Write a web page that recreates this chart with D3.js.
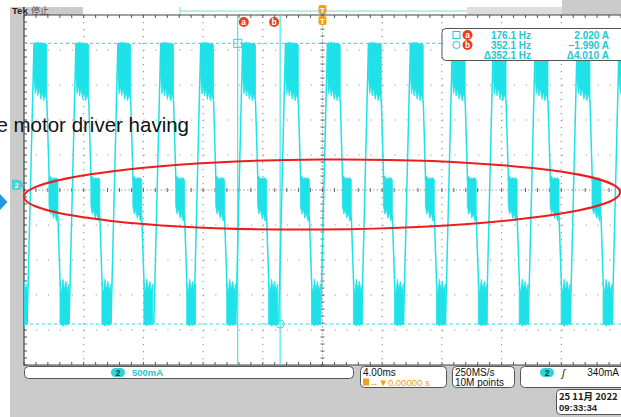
<!DOCTYPE html>
<html>
<head>
<meta charset="utf-8">
<script src="https://cdn.jsdelivr.net/npm/d3@7"></script>
<style>
  html, body { margin: 0; padding: 0; background: #fff; }
  svg { display: block; font-family: "Liberation Sans", Arial, sans-serif; }
</style>
</head>
<body>
<svg id="scope" width="621" height="417"></svg>
<script>
// ---- acquisition settings ----
const timePerDiv = 4;          // ms / div
const ampsPerDiv = 0.5;        // A / div (channel 2)
const ch2Offset = 0.15;        // divisions, ground marker position
const timeDivs = [-5,-4,-3,-2,-1,0,1,2,3,4,5];
const ampDivs  = [-5,-4,-3,-2,-1,0,1,2,3,4,5];

// ---- phase current: start time of each commutation cycle (ms, rising edge reaches +I) ----
const cycleStarts = [-22.13, -19.33, -16.52, -13.71, -10.84, -8.16, -5.35, -2.48,
                     0.33, 3.08, 5.89, 8.70, 11.44, 14.25, 17.06, 19.87];

// chopping bands inside one cycle: [ms after cycle start, upper A, lower A]
const topBand = [[0.00,2.02,1.55],[0.08,2.03,1.30],[0.16,2.02,1.42],[0.25,2.04,1.27],
                 [0.35,2.02,1.38],[0.45,2.03,1.22],[0.55,2.02,1.33],[0.65,2.01,1.20],
                 [0.75,2.02,1.30],[0.86,2.00,1.18]];
const midBand = [[1.00,0.10,-0.30],[1.10,0.12,-0.42],[1.20,0.08,-0.35],[1.30,0.10,-0.48],
                 [1.40,0.09,-0.40],[1.50,0.10,-0.52],[1.60,0.07,-0.45]];
const botBand = [[1.74,-1.40,-2.00],[1.84,-1.55,-1.99],[1.94,-1.35,-2.02],[2.04,-1.50,-1.99],
                 [2.14,-1.38,-2.01],[2.24,-1.52,-1.99],[2.34,-1.42,-2.00]];
// slopes between the bands: [ms after cycle start, A]
const riseEdge  = [[-0.46,-1.99],[0.00,2.02]];
const fallTop   = [[0.86,1.20],[1.02,0.05]];
const fallMid   = [[1.60,-0.45],[1.76,-1.45]];

// ---- cursors and readout ----
const cursorTimes = [-5.68, -2.84];     // ms  (a, b)
const cursorAmps  = [2.020, -1.990];    // A   (a, b)
const readFreq = ["176.1 Hz", "352.1 Hz", "\u0394352.1 Hz"];
const readAmp  = ["2.020 A", "\u22121.990 A", "\u03944.010 A"];

// ---- status bar ----
const vertLabel = "500mA";
const horizLabel = "4.00ms";
const delayLabel = "0.00000 s";
const rateLabels = ["250MS/s", "10M points"];
const trigLevel = "340mA";
const dateLabels = ["25 11\u6708 2022", "09:33:34"];

const W = 621, H = 417;
const P = { l: 24, t: 15, r: 621, b: 365 };
const CYAN = "#1fe2e8", CYAN_T = "#25c6cf", GRID = "#9a9a9a", ORANGE = "#f0a020", RED = "#e8401c";

const svg = d3.select("#scope");

const x = d3.scaleLinear().domain([-5 * timePerDiv, 5 * timePerDiv]).range([P.l, P.r]);
const yDiv = d3.scaleLinear().domain([-5, 5]).range([P.b, P.t]);
const y = d3.scaleLinear()
  .domain([(-5 - ch2Offset) * ampsPerDiv, (5 - ch2Offset) * ampsPerDiv])
  .range([P.b, P.t]);

// ---- frame backgrounds ----
svg.append("rect").attr("width", W).attr("height", H).attr("fill", "#fff");
svg.append("rect").attr("x", 10).attr("y", 7).attr("width", W - 10).attr("height", H - 7).attr("fill", "#cbcbcb");
svg.append("rect").attr("x", 562).attr("y", 0).attr("width", W - 562).attr("height", 14).attr("fill", "#cbcbcb");
// record view strip
svg.append("rect").attr("x", 83).attr("y", 7).attr("width", 384).attr("height", 8).attr("fill", "#fff");
svg.append("rect").attr("x", 467).attr("y", 7).attr("width", 95).attr("height", 8).attr("fill", "#dedede");
svg.append("line").attr("x1", 180).attr("x2", 467).attr("y1", 11).attr("y2", 11).attr("stroke", "#7fd8dc").attr("stroke-width", 1);
svg.append("line").attr("x1", 180).attr("x2", 180).attr("y1", 7).attr("y2", 15).attr("stroke", "#7fd8dc");
svg.append("text").attr("x", 12).attr("y", 13.5).attr("font-size", 9.5).attr("font-weight", "bold").attr("fill", "#222").text("Tek");
svg.append("text").attr("x", 31).attr("y", 13.5).attr("font-size", 9).attr("fill", "#555")
  .attr("font-family", "Noto Sans CJK SC").text("停止");

// plot area
svg.append("rect").attr("x", P.l).attr("y", P.t).attr("width", P.r - P.l).attr("height", P.b - P.t).attr("fill", "#fff");

const grid = svg.append("g");
// division lines, dotted on minor subdivisions
timeDivs.filter(d => d !== 0 && Math.abs(d) !== 5).forEach(d => {
  const xx = x(d * timePerDiv);
  grid.append("line").attr("x1", xx).attr("x2", xx).attr("y1", P.t).attr("y2", P.b)
    .attr("stroke", GRID).attr("stroke-width", 1.2).attr("stroke-dasharray", "1.2,5.8");
});
ampDivs.filter(d => d !== 0 && Math.abs(d) !== 5).forEach(d => {
  const yy = yDiv(d);
  grid.append("line").attr("x1", P.l).attr("x2", P.r).attr("y1", yy).attr("y2", yy)
    .attr("stroke", GRID).attr("stroke-width", 1.2).attr("stroke-dasharray", "1.2,10.75");
});
// centre crosshair with minor ticks
const cx = x(0), cy = yDiv(0);
grid.append("line").attr("x1", P.l).attr("x2", P.r).attr("y1", cy).attr("y2", cy)
  .attr("stroke", "#888").attr("stroke-dasharray", "1.2,2.4");
grid.append("line").attr("x1", cx).attr("x2", cx).attr("y1", P.t).attr("y2", P.b)
  .attr("stroke", "#888").attr("stroke-dasharray", "1.2,2.3");
const minorT = d3.range(-25, 26).map(i => i / 5);
minorT.forEach(d => {
  const xx = x(d * timePerDiv);
  grid.append("line").attr("x1", xx).attr("x2", xx).attr("y1", cy - 2).attr("y2", cy + 2).attr("stroke", "#666");
  grid.append("line").attr("x1", xx).attr("x2", xx).attr("y1", P.t).attr("y2", P.t + 3).attr("stroke", "#555");
  grid.append("line").attr("x1", xx).attr("x2", xx).attr("y1", P.b - 3).attr("y2", P.b).attr("stroke", "#555");
});
minorT.forEach(d => {
  const yy = yDiv(d);
  grid.append("line").attr("x1", cx - 2).attr("x2", cx + 2).attr("y1", yy).attr("y2", yy).attr("stroke", "#666");
  grid.append("line").attr("x1", P.l).attr("x2", P.l + 3).attr("y1", yy).attr("y2", yy).attr("stroke", "#555");
});
// frame
svg.append("path").attr("d", `M${P.r},${P.t}H${P.l}V${P.b}H${P.r}`).attr("fill", "none").attr("stroke", "#444").attr("stroke-width", 1.2);

// ---- waveform ----
svg.append("clipPath").attr("id", "plotClip").append("rect")
  .attr("x", P.l).attr("y", P.t).attr("width", P.r - P.l).attr("height", P.b - P.t);
const wave = svg.append("g").attr("clip-path", "url(#plotClip)");

const band = d3.area().x(d => x(d[0])).y0(d => y(d[2])).y1(d => y(d[1]));
const trace = d3.line().x(d => x(d[0])).y(d => y(d[1]));
const shift = (arr, c) => arr.map(p => [c + p[0], ...p.slice(1)]);

cycleStarts.forEach(c => {
  [topBand, midBand, botBand].forEach(b => {
    wave.append("path").attr("d", band(shift(b, c))).attr("fill", CYAN).attr("stroke", CYAN).attr("stroke-width", 0.8);
  });
  [riseEdge, fallTop, fallMid].forEach(s => {
    wave.append("path").attr("d", trace(shift(s, c))).attr("fill", "none").attr("stroke", CYAN).attr("stroke-width", 1.5);
  });
});

// ---- cursors ----
const cur = svg.append("g");
cursorAmps.forEach(a => {
  cur.append("line").attr("x1", P.l).attr("x2", P.r).attr("y1", y(a)).attr("y2", y(a))
    .attr("stroke", CYAN).attr("stroke-width", 1).attr("stroke-dasharray", "3,3");
});
cursorTimes.forEach(t => {
  cur.append("line").attr("x1", x(t)).attr("x2", x(t)).attr("y1", P.t).attr("y2", P.b)
    .attr("stroke", CYAN).attr("stroke-width", 1);
});
cur.append("rect").attr("x", x(cursorTimes[0]) - 4).attr("y", y(cursorAmps[0]) - 4).attr("width", 8).attr("height", 8)
  .attr("fill", "none").attr("stroke", CYAN).attr("stroke-width", 1);
cur.append("circle").attr("cx", x(cursorTimes[1])).attr("cy", y(cursorAmps[1])).attr("r", 4)
  .attr("fill", "none").attr("stroke", CYAN).attr("stroke-width", 1);

function badge(g, cxp, cyp, letter) {
  g.append("circle").attr("cx", cxp).attr("cy", cyp).attr("r", 5).attr("fill", RED);
  g.append("text").attr("x", cxp).attr("y", cyp + 3).attr("text-anchor", "middle")
    .attr("font-size", 8.5).attr("font-weight", "bold").attr("fill", "#fff").text(letter);
}
badge(cur, x(cursorTimes[0]) + 6, 22, "a");
badge(cur, x(cursorTimes[1]) - 6, 22, "b");

// trigger position markers
function trigMark(yy) {
  const g = svg.append("g");
  g.append("rect").attr("x", cx - 4).attr("y", yy).attr("width", 8).attr("height", 9).attr("rx", 2).attr("fill", ORANGE);
  g.append("text").attr("x", cx).attr("y", yy + 7.5).attr("text-anchor", "middle").attr("font-size", 8)
    .attr("font-weight", "bold").attr("fill", "#fff").text("T");
}
trigMark(5);
trigMark(16);

// ---- measurement readout ----
const ro = svg.append("g");
ro.append("rect").attr("x", 442).attr("y", 28.5).attr("width", 190).attr("height", 32).attr("rx", 4)
  .attr("fill", "#fff").attr("stroke", "#555").attr("stroke-width", 1);
ro.append("rect").attr("x", 453).attr("y", 31.5).attr("width", 7).attr("height", 7).attr("fill", "none").attr("stroke", CYAN_T);
ro.append("circle").attr("cx", 456.5).attr("cy", 45).attr("r", 3.6).attr("fill", "none").attr("stroke", CYAN_T);
badge(ro, 467.5, 35, "a");
badge(ro, 467.5, 45, "b");
[0, 1, 2].forEach(i => {
  ro.append("text").attr("x", 531).attr("y", 38.5 + i * 10).attr("text-anchor", "end").attr("font-size", 10)
    .attr("font-weight", "bold").attr("fill", CYAN_T).text(readFreq[i]);
  ro.append("text").attr("x", 609).attr("y", 38.5 + i * 10).attr("text-anchor", "end").attr("font-size", 10)
    .attr("font-weight", "bold").attr("fill", CYAN_T).text(readAmp[i]);
});

// ---- channel ground marker ----
const gm = svg.append("g");
gm.append("path").attr("d", `M12,${y(0) - 5}H20L24,${y(0)}L20,${y(0) + 5}H12Z`).attr("fill", "#49cfd6");
gm.append("text").attr("x", 16.5).attr("y", y(0) + 3).attr("text-anchor", "middle").attr("font-size", 7.5)
  .attr("font-weight", "bold").attr("fill", "#fff").text("2");

// ---- status bar ----
const sb = svg.append("g");
function box(x0, y0, w, h) {
  sb.append("rect").attr("x", x0).attr("y", y0).attr("width", w).attr("height", h).attr("rx", 4)
    .attr("fill", "#fff").attr("stroke", "#555").attr("stroke-width", 1);
}
function chBadge(x0, y0) {
  sb.append("rect").attr("x", x0).attr("y", y0).attr("width", 14).attr("height", 9).attr("rx", 4.5).attr("fill", "#2fd3da");
  sb.append("text").attr("x", x0 + 7).attr("y", y0 + 7.5).attr("text-anchor", "middle").attr("font-size", 8.5)
    .attr("font-weight", "bold").attr("fill", "#1a3a3c").text("2");
}
box(24.5, 366.5, 329, 12);
chBadge(111, 368);
sb.append("text").attr("x", 132).attr("y", 376).attr("font-size", 9.5).attr("font-weight", "bold").attr("fill", CYAN_T).text(vertLabel);

box(360.5, 366.5, 86, 21);
sb.append("text").attr("x", 363).attr("y", 376).attr("font-size", 10).attr("fill", "#111").text(horizLabel);
sb.append("rect").attr("x", 363).attr("y", 378.5).attr("width", 6).attr("height", 7).attr("fill", ORANGE);
sb.append("text").attr("x", 369).attr("y", 385.5).attr("font-size", 9.5).attr("fill", ORANGE).text("\u2192\u25BC" + delayLabel);

box(452.5, 366.5, 62, 21);
sb.append("text").attr("x", 455).attr("y", 376).attr("font-size", 10).attr("fill", "#111").text(rateLabels[0]);
sb.append("text").attr("x", 455).attr("y", 386).attr("font-size", 10).attr("fill", "#111").text(rateLabels[1]);

box(520.5, 366.5, 110, 21);
chBadge(540, 368);
sb.append("text").attr("x", 562).attr("y", 376.5).attr("font-size", 10).attr("font-style", "italic").attr("fill", "#111").text("\u0283");
sb.append("text").attr("x", 619).attr("y", 376).attr("text-anchor", "end").attr("font-size", 10).attr("fill", "#111").text(trigLevel);

box(556.5, 389.5, 70, 25);
sb.append("text").attr("x", 559).attr("y", 400).attr("font-size", 9.5).attr("font-weight", "bold").attr("fill", "#222")
  .attr("font-family", "Noto Sans CJK SC, Liberation Sans").text(dateLabels[0]);
sb.append("text").attr("x", 559).attr("y", 411).attr("font-size", 9.5).attr("font-weight", "bold").attr("fill", "#222").text(dateLabels[1]);

// ---- slide annotation on top ----
svg.append("text").attr("x", 189).attr("y", 132).attr("text-anchor", "end").attr("font-size", 20.5)
  .attr("fill", "#111").text("e motor driver having");
svg.append("path").attr("d", "M0,194L7.5,202L0,210Z").attr("fill", "#1e9be0");
svg.append("ellipse").attr("cx", 322).attr("cy", 194.5).attr("rx", 298).attr("ry", 35)
  .attr("transform", "rotate(-0.45,322,194.5)")
  .attr("fill", "none").attr("stroke", "#ee1d1d").attr("stroke-width", 2);
</script>
</body>
</html>
